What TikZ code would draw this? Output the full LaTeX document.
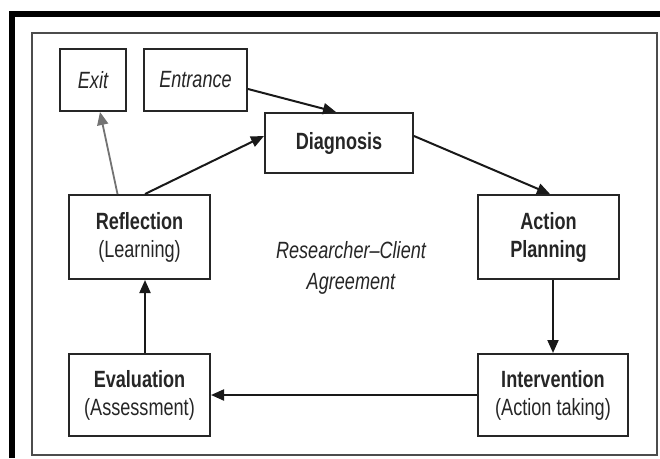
\documentclass[tikz,border=0pt]{standalone}
\usepackage{fontspec}
\newfontfamily\arialn[FakeStretch=0.77,Ligatures=TeX]{Liberation Sans}
\usetikzlibrary{arrows.meta,calc}
\begin{document}
\begin{tikzpicture}[x=1pt,y=-1pt,
  box/.style={draw=black!85,line width=2pt,inner sep=0pt,align=center,text=black!85,
     font=\arialn\fontsize{23.5}{28}\selectfont},
  conn/.style={draw=black!90,line width=2pt,-{Triangle[length=13pt,width=11pt]}},
  connlight/.style={draw=black!55,line width=1.8pt,-{Triangle[length=13pt,width=11pt]}}
]
\useasboundingbox (0,0) rectangle (660,458);
\fill[white] (0,0) rectangle (660,458);
% outer thick frame
\draw[line width=6pt] (12,458) -- (12,14) -- (660,14);
% inner thin frame
\draw[black!70,line width=1.5pt] (32,33) rectangle (657,455);

\node[box,minimum width=66pt,minimum height=62pt] (exit) at (93,80) {\itshape Exit};
\node[box,minimum width=103pt,minimum height=62pt] (entrance) at (195.5,80) {\itshape Entrance};
\node[box,minimum width=148pt,minimum height=60pt] (diagnosis) at (339,143) {\bfseries Diagnosis};
\node[box,minimum width=141pt,minimum height=84pt] (reflection) at (139.5,237) {\bfseries Reflection\\(Learning)};
\node[box,minimum width=141pt,minimum height=84pt] (action) at (548.5,237) {\bfseries Action\\\bfseries Planning};
\node[box,minimum width=141pt,minimum height=82pt] (evaluation) at (139.5,395) {\bfseries Evaluation\\(Assessment)};
\node[box,minimum width=150pt,minimum height=82pt] (intervention) at (553,395) {\bfseries Intervention\\(Action taking)};
\node[align=center,text=black!85,font=\arialn\fontsize{23.5}{31}\selectfont\itshape] (agree) at (351,268) {Researcher–Client\\Agreement};

\draw[conn] ($(entrance.east)+(0,9)$) -- ($(diagnosis.north)+(-3,0)$);
\draw[connlight] ($(reflection.north)+(-22,0)$) -- ($(exit.south)+(7,0)$);
\draw[conn] ($(reflection.north)+(5.5,0)$) -- ($(diagnosis.west)+(0,-7)$);
\draw[conn] ($(diagnosis.east)+(0,-7)$) -- ($(action.north)+(1.5,0)$);
\draw[conn] (intervention.north |- action.south) -- (intervention.north);
\draw[conn] (intervention.west) -- (evaluation.east);
\draw[conn] ($(evaluation.north)+(5.5,0)$) -- ($(reflection.south)+(5.5,0)$);
\end{tikzpicture}
\end{document}
